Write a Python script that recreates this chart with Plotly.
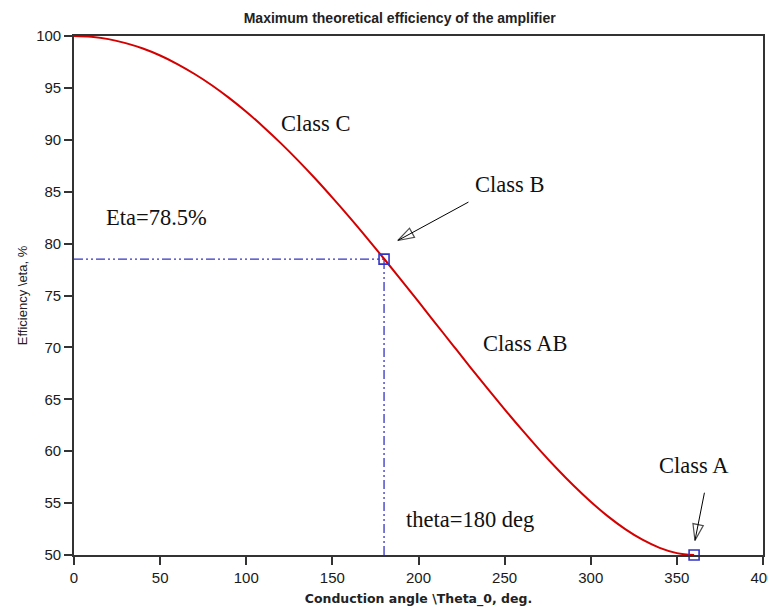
import plotly.graph_objects as go

# Conduction angle (deg) and efficiency (%)
angle = [0, 10, 20, 30, 40, 50, 60, 70, 80, 90, 100, 110, 120, 130, 140, 150, 160, 170, 180,
         190, 200, 210, 220, 230, 240, 250, 260, 270, 280, 290, 300, 310, 320, 330, 340, 350, 360]
efficiency = [100.0, 99.92, 99.70, 99.31, 98.79, 98.12, 97.30, 96.34, 95.26, 94.04, 92.70, 91.24,
              89.68, 88.02, 86.27, 84.43, 82.53, 80.56, 78.54, 76.48, 74.40, 72.30, 70.20, 68.11,
              66.05, 64.03, 62.07, 60.18, 58.38, 56.69, 55.13, 53.72, 52.49, 51.47, 50.69, 50.18, 50.0]

# Highlighted operating points (Class B, Class A)
mark_x = [180, 360]
mark_y = [78.5, 50.0]

# Guide lines for Class B point
hguide_x = [0, 180]
hguide_y = [78.5, 78.5]
vguide_x = [180, 180]
vguide_y = [50, 78.5]

# Text labels
label_text = ["Class C", "Class B", "Eta=78.5%", "Class AB", "Class A", "theta=180 deg"]
label_x = [140, 253, 48, 262, 360, 230]
label_y = [91.6, 85.7, 82.5, 70.4, 58.6, 53.4]

# Arrows (tail -> tip)
arrow_tail_x = [229, 366]
arrow_tail_y = [84.0, 56.0]
arrow_tip_x = [188, 360.5]
arrow_tip_y = [80.3, 51.4]

x_ticks = [0, 50, 100, 150, 200, 250, 300, 350, 400]
y_ticks = [50, 55, 60, 65, 70, 75, 80, 85, 90, 95, 100]

blue = "#3434c4"
fig = go.Figure()

fig.add_trace(go.Scatter(x=hguide_x, y=hguide_y, mode="lines",
                         line=dict(color=blue, width=1.3, dash="9px,3px,2px,3px,2px,3px"),
                         showlegend=False, hoverinfo="skip"))
fig.add_trace(go.Scatter(x=vguide_x, y=vguide_y, mode="lines",
                         line=dict(color=blue, width=1.3, dash="9px,3px,2px,3px,2px,3px"),
                         showlegend=False, hoverinfo="skip"))
fig.add_trace(go.Scatter(x=angle, y=efficiency, mode="lines", line=dict(color="#d40000", width=2, shape="spline"),
                         showlegend=False, cliponaxis=False))
fig.add_trace(go.Scatter(x=mark_x, y=mark_y, mode="markers",
                         marker=dict(symbol="square-open", size=10, color=blue, line=dict(width=1.6)),
                         showlegend=False, cliponaxis=False))

for tx, ty, hx, hy in zip(arrow_tail_x, arrow_tail_y, arrow_tip_x, arrow_tip_y):
    fig.add_trace(go.Scatter(x=[tx, hx], y=[ty, hy], mode="lines+markers",
                             line=dict(color="black", width=1),
                             marker=dict(symbol="arrow-open", size=[0, 17], color="black",
                                         angleref="previous", line=dict(width=1.2, color="black")),
                             showlegend=False, cliponaxis=False, hoverinfo="skip"))

for t, x, y in zip(label_text, label_x, label_y):
    fig.add_annotation(x=x, y=y, text=t, showarrow=False,
                       font=dict(family="Liberation Serif", size=22.5, color="#111"))

# The page adds an 8px body margin, so the figure is 8px smaller and margins shifted accordingly
fig.update_layout(
    width=768, height=605,
    margin=dict(l=66, r=13, t=28, b=58),
    paper_bgcolor="white", plot_bgcolor="white",
    title=dict(text="Maximum theoretical efficiency of the amplifier", x=0.51, xanchor="center",
               y=0.984, yanchor="middle", pad=dict(t=0, b=0),
               font=dict(family="Liberation Sans", size=14, color="#222", weight="bold")),
    xaxis=dict(range=[0, 400], tickvals=x_ticks, showgrid=False, zeroline=False, automargin=False,
               showline=True, linecolor="#333", linewidth=1.6, mirror=True,
               ticks="outside", ticklen=8, tickwidth=1.5, tickcolor="#333",
               tickfont=dict(family="Liberation Sans", size=15, color="#1a1a1a"),
               title=dict(text="Conduction angle \\Theta_0, deg.", standoff=9,
                          font=dict(family="DejaVu Sans", size=12.5, color="#222", weight="bold"))),
    yaxis=dict(range=[50, 100], tickvals=y_ticks, showgrid=False, zeroline=False, automargin=False,
               showline=True, linecolor="#333", linewidth=1.6, mirror=True,
               ticks="outside", ticklen=8, tickwidth=1.5, tickcolor="#333",
               tickfont=dict(family="Liberation Sans", size=15, color="#1a1a1a"),
               title=dict(text="Efficiency \\eta, %", standoff=6,
                          font=dict(family="Liberation Sans", size=13, color="#222"))),
)

fig.write_html("out.html")
